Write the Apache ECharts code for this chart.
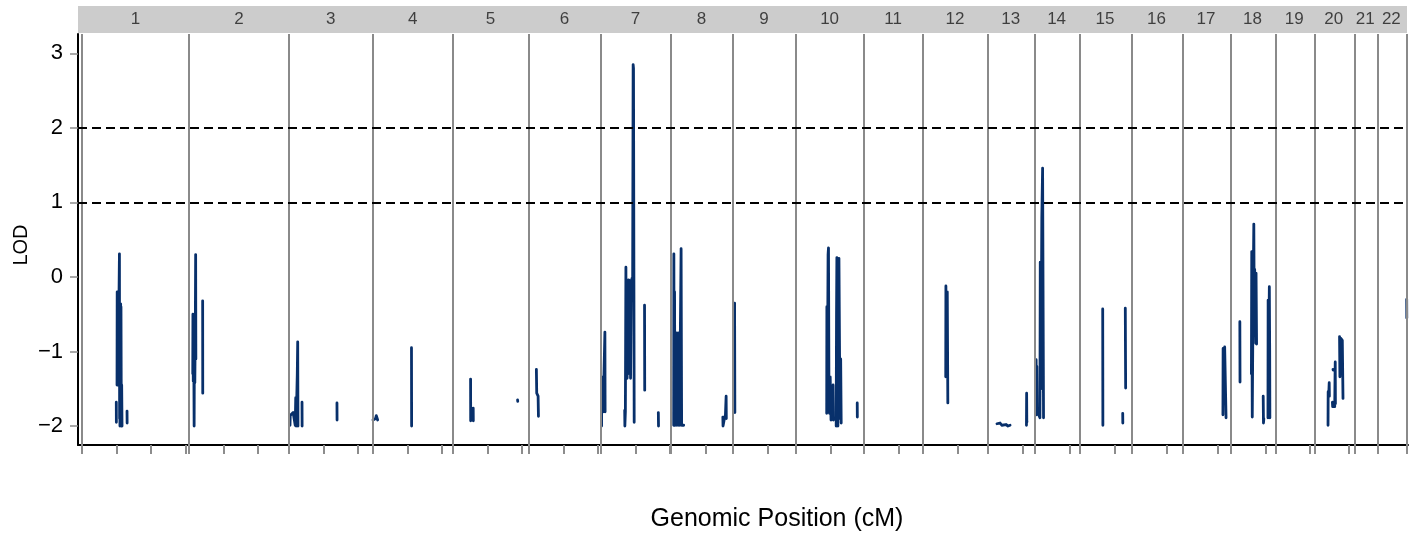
<!DOCTYPE html>
<html><head><meta charset="utf-8">
<script src="https://cdn.jsdelivr.net/npm/echarts@6/dist/echarts.min.js"></script>
<style>html,body{margin:0;padding:0;background:#fff}#c{width:1418px;height:534px}</style>
</head><body><div id="c"></div>
<script>
// chromosome names and genetic lengths (cM)
const chromNames = ['1','2','3','4','5','6','7','8','9','10','11','12','13','14','15','16','17','18','19','20','21','22'];
const chromLengths = [310,290,243,232,220,209,203,180,183,197,171,188,136,130,151,148,139,130,113,116,67,84];
const tickStep = 100;
const yTicks = [-2,-1,0,1,2,3];
const thresholds = [1,2];

// LOD profile per chromosome: [position within chromosome (cM), LOD]; null = gap
const chr1 = [[99.4,-1.68],[99.6,-1.95],null,
  [101.5,-1.45],[102,-0.2],[102.5,-1.3],[103,-0.3],[103.5,-1.45],[104,-0.5],[104.5,-1.2],[106.5,-0.6],[108.5,0.31],[109,-1.9],[109.5,-0.9],[110,-2.0],[112,-0.36],[112.5,-1.9],[113,-0.4],[114,-2.0],[115,-1.45],[116,-2.0],null,
  [130.5,-1.8],[130.8,-1.96]];
const chr2 = [[11,-1.3],[11.5,-0.5],[12.5,-1.4],[13.5,-0.55],[15,-2.0],[16,-0.5],[17,-1.42],[18.5,-0.6],[19.4,0.3],[20,-1.1],null,
  [39.7,-0.32],[40,-1.56]];
const chr3 = [[2.9,-1.99],[3.5,-1.86],[6,-1.84],[9,-1.85],[12,-1.82],[15,-1.84],[17.5,-1.83],[18,-1.99],[19.5,-1.62],[20.5,-2.0],[22,-1.72],[24,-1.3],[25.2,-0.87],[26,-2.0],null,
  [37.7,-1.68],[38,-2.0],null,[139,-1.69],[139.3,-1.92]];
const chr4 = [[0.5,-1.92],[4,-1.91],[8,-1.9],[10,-1.86],[12,-1.87],[14,-1.92],null,[112,-0.95],[112.4,-2.0]];
const chr5 = [[51.3,-1.37],[51.6,-1.93],[52,-1.9],null,[58.9,-1.76],[59.2,-1.93],null,[187.5,-1.65],[188,-1.67]];
const chr6 = [[22,-1.24],[23,-1.56],[27,-1.6],[28,-1.87]];
const chr7 = [[1.5,-1.35],[2,-2.0],[2.5,-1.4],[3.5,-1.8],[5,-1.34],[6.5,-1.81],[8,-1.5],[11.6,-0.74],[12.2,-1.81],null,
  [69,-1.79],[69.5,-2.0],[71,-1.8],[72.5,0.13],[73.5,-1.35],[75,-0.2],[76,-1.36],[77.5,-0.23],[78.5,-1.3],[80,-0.04],[82,-0.3],[84,-0.05],[86,-1.36],[88,-0.1],[90,-0.02],[92,-0.1],[93.5,2.85],[94.5,2.8],[96.5,-1.95],null,
  [126.5,-0.38],[127,-1.52],null,[166.5,-1.82],[167,-2.0]];
const chr8 = [[8,-1.99],[8.5,0.31],[9.5,-1.99],[10.5,-0.2],[11.5,-1.99],[13,-0.75],[15,-1.99],[17,-0.75],[19,-0.8],[21,-1.99],[23,-0.75],[25,-1.99],[27,-0.9],[29.5,0.38],[31,-1.99],[33,-1.99],[37,-1.99],null,
  [150.5,-1.88],[151,-2.0],[153,-1.95],[155,-1.9],[158,-1.85],[160,-1.6],[160.5,-1.9]];
const chr9 = [[4.5,-0.35],[5,-1.3],[5.3,-1.82]];
const chr10 = [[88.5,-1.83],[89,-0.4],[90.5,-1.5],[92.5,0.3],[93.7,0.39],[95,-1.4],[96.5,-1.83],[98.6,-1.34],[101,-1.92],[103,-1.5],[105,-1.9],[107,-1.45],[108,-1.92],null,
  [116,-2.0],[117,-0.5],[118,0.26],[119.5,-1.2],[121,-2.0],[122.5,-0.6],[124,0.25],[125.5,0.26],[127,-1.9],[129,-1.1],[130.5,-1.96],null,
  [177,-1.69],[177.3,-1.88]];
const chr11 = [];
const chr12 = [[65.5,-1.34],[66,-0.12],[67,-0.9],[70,-0.2],[71.6,-1.69]];
const chr13 = [[26,-1.97],[30,-1.98],[35,-1.96],[40,-1.99],[45,-1.97],[52,-1.98],[58,-2.0],[64,-1.99],null,
  [111.5,-1.99],[112,-1.56],[112.5,-1.95],[113,-1.94]];
const chr14 = [[3,-1.8],[3.5,-1.11],[4.5,-1.85],[5.5,-1.2],[6.5,-1.8],[14.5,-1.89],[15.5,0.2],[17.5,-1.5],[20,0.8],[22.3,1.46],[23,1.45],[25,-1.89]];
const chr15 = [[66.5,-0.43],[67,-1.99],null,[124.5,-1.83],[124.8,-1.96],null,[132,-0.42],[132.5,-1.0],[133,-1.49]];
const chr16 = [];
const chr17 = [[116,-1.85],[116.5,-0.96],[119,-1.3],[121,-0.94],[124,-0.94],[125,-1.89]];
const chr18 = [[26,-0.6],[26.5,-1.41],null,
  [59.5,-1.3],[60.5,0.34],[62,-1.88],[64,-0.5],[66.5,0.71],[67.5,-0.3],[69,0.1],[72,-0.89],[73,0.05],[74.5,-0.9],null,
  [93.7,-1.6],[94.5,-1.96],[95.5,-1.9],null,
  [107.5,-1.89],[108,-0.31],[109.5,-1.1],[111.5,-0.13],[112.5,-1.0],[113,-1.89],null,[114,-1.97],[114.4,-1.97]];
const chr19 = [];
const chr20 = [[38.6,-1.99],[39,-1.54],[40.5,-1.6],[42,-1.42],[42.5,-1.6],null,
  [51.3,-1.68],[52,-1.74],[56,-1.72],[58,-1.74],[59,-1.3],[59.5,-1.14],[60,-1.7],null,[53,-1.24],[53.4,-1.25],null,
  [72,-0.8],[73,-1.34],[75,-0.82],[80,-0.85],[82,-1.63]];
const chr21 = [];
const chr22 = [[83.6,-0.3],[83.9,-0.55]];

const chromData = [chr1,chr2,chr3,chr4,chr5,chr6,chr7,chr8,chr9,chr10,chr11,chr12,chr13,chr14,chr15,chr16,chr17,chr18,chr19,chr20,chr21,chr22];

// build genome-wide coordinates
const offsets = [];
let acc = 0;
chromLengths.forEach(l => { offsets.push(acc); acc += l; });
const totalLen = acc;

const lineData = [];
chromData.forEach((arr, i) => {
  let last = offsets[i];
  arr.forEach(p => {
    if (p === null) { lineData.push([last, '-']); }
    else { last = offsets[i] + p[0]; lineData.push([last, p[1]]); }
  });
  lineData.push([last, '-']);
});

const xTicks = [];
chromLengths.forEach((l, i) => { for (let k = 0; k < l; k += tickStep) xTicks.push(offsets[i] + k); });
xTicks.push(totalLen);

const boundaries = offsets.concat([totalLen]);
const stripLabels = chromNames.map((n, i) => ({ name: n, value: [offsets[i] + chromLengths[i] / 2, 0.5] }));

const XMIN = -11.6, XMAX = totalLen + 3.4;
const FONT = '"Liberation Sans", Arial, sans-serif';

const chart = echarts.init(document.getElementById('c'), null, { renderer: 'canvas' });
chart.setOption({
  animation: false,
  backgroundColor: '#ffffff',
  grid: [
    { left: 78, top: 34, width: 1330, height: 411, show: false, containLabel: false, outerBoundsMode: 'none' },
    { left: 78, top: 6, width: 1329, height: 27, show: true, backgroundColor: '#cccccc', borderWidth: 0, containLabel: false, outerBoundsMode: 'none' }
  ],
  xAxis: [
    { gridIndex: 0, type: 'value', min: XMIN, max: XMAX,
      axisLine: { show: true, onZero: false, lineStyle: { color: '#000', width: 2 } },
      axisTick: { show: true, customValues: xTicks, length: 9, lineStyle: { color: '#8c8c8c', width: 2 } },
      axisLabel: { show: false }, splitLine: { show: false } },
    { gridIndex: 1, type: 'value', min: XMIN, max: XMAX, show: false }
  ],
  yAxis: [
    { gridIndex: 0, type: 'value', min: -2.255, max: 3.26,
      axisLine: { show: true, onZero: false, lineStyle: { color: '#000', width: 2 } },
      axisTick: { show: true, customValues: yTicks, length: 8, lineStyle: { color: '#8c8c8c', width: 1.5 } },
      axisLabel: { customValues: yTicks, margin: 15, fontSize: 22, color: '#000', fontFamily: FONT,
        formatter: v => (v < 0 ? '\u2212' + Math.abs(v) : String(v)) },
      splitLine: { show: false } },
    { gridIndex: 1, type: 'value', min: 0, max: 1, show: false }
  ],
  graphic: [
    { type: 'text', x: 777, y: 519, style: { text: 'Genomic Position (cM)', fill: '#000',
      font: '25px ' + FONT, align: 'center', verticalAlign: 'middle' } },
    { type: 'text', x: 21, y: 245, rotation: Math.PI / 2, style: { text: 'LOD', fill: '#000',
      font: '20px ' + FONT, align: 'center', verticalAlign: 'middle' } }
  ],
  series: [
    { type: 'line', xAxisIndex: 0, yAxisIndex: 0, data: [], z: 1, silent: true,
      markLine: { silent: true, symbol: ['none', 'none'], label: { show: false },
        data: boundaries.map(b => ({ xAxis: b, lineStyle: { color: '#8a8a8a', width: 2, type: 'solid' } }))
          .concat(thresholds.map(t => ({ yAxis: t, lineStyle: { color: '#000', width: 2, type: [9, 5] } }))) } },
    { type: 'line', xAxisIndex: 0, yAxisIndex: 0, data: lineData, showSymbol: false, symbol: 'none',
      connectNulls: false, z: 3, lineStyle: { color: '#08306b', width: 2.8, join: 'round', cap: 'round' } },
    { type: 'scatter', xAxisIndex: 1, yAxisIndex: 1, data: stripLabels, symbolSize: 1,
      itemStyle: { color: 'rgba(0,0,0,0)' }, silent: true, z: 5,
      label: { show: true, position: 'inside', formatter: '{b}', fontSize: 17, color: '#1a1a1a', fontFamily: FONT } }
  ]
});
</script></body></html>
